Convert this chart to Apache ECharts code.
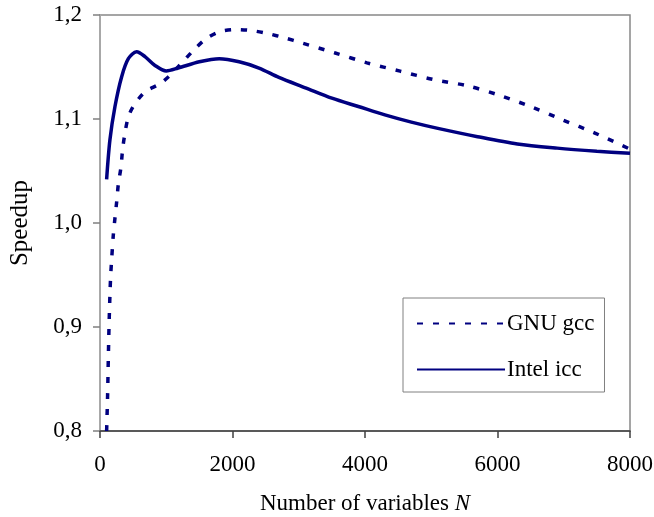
<!DOCTYPE html>
<html>
<head>
<meta charset="utf-8">
<script src="https://cdn.jsdelivr.net/npm/echarts@6/dist/echarts.min.js"></script>
<style>
html,body{margin:0;padding:0;background:#fff;}
#chart{width:654px;height:517px;}
</style>
</head>
<body>
<div id="chart"></div>
<script>
// ---- data ----
const gccN = [100,115,125,136,151,161,176,201,226,252,277,317,340,377,428,510,679,906,1057,1207,1410,1610,1810,2040,2290,2540,2790,3050,3550,4030,4530,5030,5540,6020,6520,6990,7470,8000];
const gccSpeedup = [0.80,0.835,0.868,0.90,0.933,0.949,0.965,0.9885,1.0048,1.0205,1.0375,1.054,1.07,1.0865,1.102,1.113,1.126,1.134,1.142,1.152,1.166,1.1776,1.184,1.186,1.185,1.182,1.178,1.173,1.1635,1.154,1.146,1.138,1.132,1.123,1.1115,1.099,1.0865,1.071];
const iccN = [100,150,226,327,428,553,679,830,1000,1180,1500,1800,2100,2400,2700,3100,3500,3900,4300,4700,5100,5700,6300,6900,7500,8000];
const iccSpeedup = [1.042,1.080,1.112,1.1407,1.158,1.1647,1.160,1.1515,1.1462,1.149,1.155,1.158,1.155,1.149,1.140,1.130,1.120,1.112,1.104,1.097,1.091,1.083,1.076,1.072,1.069,1.067];
const seriesNames = ['GNU gcc','Intel icc'];
const xTickLabels = ['0','2000','4000','6000','8000'];
const yTickLabels = ['0,8','0,9','1,0','1,1','1,2'];
const xAxisTitle = 'Number of variables ';
const xAxisTitleItalic = 'N';
const yAxisTitle = 'Speedup';

const xMin = 0, xMax = 8000, xStep = 2000;
const yMin = 0.8, yMax = 1.2, yStep = 0.1;

const pairs = (xs, ys) => xs.map((x, i) => [x, ys[i]]);
const FONT = '"Liberation Serif", "Times New Roman", serif';
const NAVY = '#000080';

const chart = echarts.init(document.getElementById('chart'), null, {renderer: 'canvas'});
chart.setOption({
  animation: false,
  backgroundColor: '#fff',
  grid: {left: 100, right: 24, top: 15, bottom: 86, outerBoundsMode: 'none', containLabel: false,
         show: true, borderColor: '#888', borderWidth: 1.5, backgroundColor: 'transparent'},
  xAxis: {
    type: 'value', min: xMin, max: xMax, interval: xStep,
    axisLine: {show: true, onZero: false, lineStyle: {color: '#404040', width: 1.5}},
    axisTick: {show: true, inside: false, length: 7, lineStyle: {color: '#404040', width: 1.5}},
    splitLine: {show: false},
    axisLabel: {margin: 22, fontFamily: FONT, fontSize: 23, color: '#000',
      formatter: v => xTickLabels[Math.round((v - xMin) / xStep)]},
    name: xAxisTitle + '{i|' + xAxisTitleItalic + '}',
    nameLocation: 'middle', nameGap: 61,
    nameTextStyle: {fontFamily: FONT, fontSize: 23, color: '#000',
      rich: {i: {fontFamily: FONT, fontSize: 23, fontStyle: 'italic', color: '#000'}}}
  },
  yAxis: {
    type: 'value', min: yMin, max: yMax, interval: yStep,
    axisLine: {show: true, lineStyle: {color: '#a8a8a8', width: 2}},
    axisTick: {show: true, inside: false, length: 7, lineStyle: {color: '#808080', width: 1.5}},
    splitLine: {show: false},
    axisLabel: {margin: 18, fontFamily: FONT, fontSize: 23, color: '#000',
      formatter: v => yTickLabels[Math.round((v - yMin) / yStep)]},
    name: yAxisTitle, nameLocation: 'middle', nameGap: 67, nameRotate: 90,
    nameTextStyle: {fontFamily: FONT, fontSize: 25, color: '#000'}
  },
  legend: {
    orient: 'vertical', left: 403, top: 298,
    padding: [14, 10, 11, 13],
    itemWidth: 88, itemHeight: 22, itemGap: 23,
    borderColor: '#808080', borderWidth: 1, backgroundColor: '#fff',
    itemStyle: {color: 'rgba(0,0,0,0)', borderColor: 'rgba(0,0,0,0)', borderWidth: 0},
    textStyle: {fontFamily: FONT, fontSize: 23, color: '#000', padding: [0, 0, 0, -3], lineHeight: 22},
    data: seriesNames
  },
  series: [
    {name: seriesNames[0], type: 'line', data: pairs(gccN, gccSpeedup), smooth: 0.3,
     showSymbol: false, symbol: 'none', clip: true,
     lineStyle: {color: NAVY, width: 3.5, type: [6, 10]}, itemStyle: {color: NAVY}},
    {name: seriesNames[1], type: 'line', data: pairs(iccN, iccSpeedup), smooth: 0.3,
     showSymbol: false, symbol: 'none', clip: true,
     lineStyle: {color: NAVY, width: 3.5, type: 'solid'}, itemStyle: {color: NAVY}}
  ]
});
</script>
</body>
</html>
